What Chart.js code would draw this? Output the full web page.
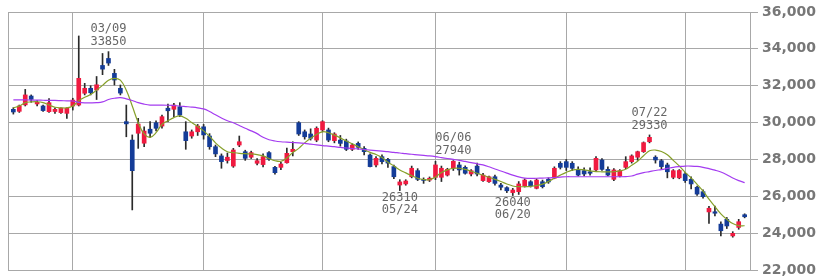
<!DOCTYPE html>
<html>
<head>
<meta charset="utf-8">
<script src="https://cdn.jsdelivr.net/npm/chart.js@4/dist/chart.umd.min.js"></script>
<style>
html,body{margin:0;padding:0;background:#fff;}
#wrap{width:823px;height:280px;}
</style>
</head>
<body>
<div id="wrap"><canvas id="c" width="823" height="280"></canvas></div>
<script>
const dates = [
 "02/14","02/15","02/16","02/17","02/18","02/21","02/22","02/24","02/25","02/28",
 "03/01","03/02","03/03","03/04","03/07","03/08","03/09","03/10","03/11","03/14","03/15","03/16","03/17","03/18","03/22","03/23","03/24","03/25","03/28","03/29","03/30","03/31",
 "04/01","04/04","04/05","04/06","04/07","04/08","04/11","04/12","04/13","04/14","04/15","04/18","04/19","04/20","04/21","04/22","04/25","04/26","04/27","04/28",
 "05/02","05/06","05/09","05/10","05/11","05/12","05/13","05/16","05/17","05/18","05/19","05/20","05/23","05/24","05/25","05/26","05/27","05/30","05/31",
 "06/01","06/02","06/03","06/06","06/07","06/08","06/09","06/10","06/13","06/14","06/15","06/16","06/17","06/20","06/21","06/22","06/23","06/24","06/27","06/28","06/29","06/30",
 "07/01","07/04","07/05","07/06","07/07","07/08","07/11","07/12","07/13","07/14","07/15","07/19","07/20","07/21","07/22","07/25","07/26","07/27","07/28","07/29",
 "08/01","08/02","08/03","08/04","08/05","08/08","08/09","08/10","08/12","08/15","08/16"
];
const opens = [30720,30610,30960,31440,31010,30900,30590,30600,30540,30500,
 30900,30950,31590,31860,31770,33100,33480,32670,31860,30050,29050,29420,28880,29640,29990,29810,30780,30720,30860,29500,29270,29500,
 29770,29270,28690,28190,27940,27640,28780,28420,28120,27790,27720,28370,27570,27570,27820,28420,29990,29500,29380,29050,
 29600,29600,29020,29050,29000,28550,28870,28600,28240,27700,28150,28000,27610,26610,26670,27060,27390,26920,26880,
 27030,27030,27150,27520,27700,27570,27210,27640,26850,26790,27060,26610,26470,26200,26250,26560,26790,26430,26790,26920,26980,27790,
 27880,27790,27460,27390,27330,27430,27970,27460,26920,27100,27570,27880,28120,28420,28960,28120,27930,27700,27030,27000,
 27210,26920,26490,26250,25150,25160,24490,24750,23850,24310,25000];
const highs = [30810,30950,31800,31500,31200,30950,31300,30800,30800,30800,
 31320,34700,32130,32000,32500,33750,33850,32890,32040,30950,29330,30230,29770,30050,30100,30400,31000,31050,31080,30050,29600,29900,
 29900,29400,28780,28300,28350,28600,29270,28500,28450,28050,28300,28420,27620,27850,28620,28960,30050,29600,29660,29770,
 30100,29700,29450,29300,29100,28850,28950,28700,28300,28150,28250,28060,27700,26900,26900,27640,27500,27000,27050,
 27900,27640,27520,27940,27850,27650,27450,27800,27250,27100,27150,26700,26520,26430,26800,26950,26850,26950,26880,27000,27600,27880,
 28000,27880,27600,27550,27550,28150,28050,27600,27500,27450,28150,28250,28450,28950,29330,28200,28000,27800,27450,27450,
 27300,27050,26550,26350,25450,25470,24620,24850,24080,24750,25050];
const lows = [30460,30550,30900,31100,30900,30600,30550,30500,30500,30230,
 30680,30900,31500,31500,31250,32600,33100,32040,31500,29230,25260,28600,28690,29200,29550,29700,30050,30320,30320,28550,29150,29300,
 29100,28550,28150,27520,27800,27570,28690,27950,28050,27700,27600,27950,27200,27450,27800,28190,29300,29100,29050,28960,
 29500,28960,28900,28720,28480,28480,28550,28250,27600,27600,27750,27570,26960,26310,26600,27000,26850,26700,26800,
 26900,26800,27100,27400,27150,27200,27100,27100,26800,26750,26600,26350,26200,26040,26100,26500,26500,26400,26450,26700,26950,27480,
 27400,27400,27100,27100,27150,27350,27400,27100,26850,27050,27500,27800,27950,28380,28900,27800,27500,27000,26950,26950,
 26750,26400,26050,25900,24530,24930,23850,24250,23780,24210,24830];
const closes = [30575,30900,31500,31260,31100,30650,31080,30720,30780,30780,
 31220,32400,31860,31620,32050,32900,33230,32310,31600,29930,27390,29920,29540,29420,29690,30320,30640,30950,30410,29020,29500,29810,
 29330,28690,28300,27880,28120,28510,28960,28060,28370,27930,28150,28010,27280,27750,28330,28550,29380,29230,29150,29690,
 30050,29050,29380,28870,28550,28780,28660,28420,27610,28060,27880,27800,27060,26780,26830,27520,26920,26860,26980,
 27700,27520,27460,27900,27430,27250,27390,27210,27150,27060,26700,26490,26300,26340,26670,26880,26560,26880,26520,26780,27520,27570,
 27570,27520,27150,27210,27250,28060,27460,27150,27430,27390,27880,28190,28420,28910,29200,27970,27610,27330,27390,27400,
 26850,26670,26120,25980,25350,25080,24130,24390,23990,24620,24890];
const maShort = [30800,30900,31080,31120,31130,31080,30950,30830,30800,30800,
 30900,31180,31370,31520,31760,32020,32300,32400,32300,31750,30900,30000,29380,29200,29450,29900,30100,30270,30360,30230,30000,29780,
 29550,29250,28900,28620,28420,28370,28330,28310,28300,28260,28190,28050,27930,27900,28080,28380,28600,28900,29150,29350,
 29500,29450,29320,29170,29000,28850,28690,28530,28380,28270,28100,27850,27650,27430,27270,27120,26980,26910,26900,
 27050,27290,27430,27520,27520,27460,27360,27250,27140,27030,26920,26800,26670,26560,26520,26520,26540,26580,26660,26800,26980,27150,
 27300,27420,27460,27430,27380,27340,27330,27330,27330,27380,27470,27680,27900,28200,28470,28510,28430,28250,27950,27650,
 27300,27000,26650,26280,25850,25440,25050,24750,24520,24410,24400];
const maLong = [31230,31230,31230,31220,31220,31210,31200,31200,31190,31180,
 31170,31100,31070,31070,31080,31120,31250,31320,31350,31290,31200,31080,31000,30950,30950,30950,30940,30920,30900,30870,30840,30800,
 30740,30600,30420,30250,30100,29990,29840,29690,29550,29400,29200,29070,29000,28960,28940,28920,28900,28870,28830,28790,
 28750,28720,28690,28650,28620,28590,28570,28540,28510,28480,28450,28420,28380,28350,28310,28280,28250,28220,28190,
 28150,28100,28050,28000,27950,27890,27830,27760,27700,27600,27480,27370,27260,27150,27050,26990,26970,26980,26990,27000,27020,27040,
 27060,27060,27060,27060,27060,27060,27060,27060,27060,27060,27070,27100,27200,27280,27340,27400,27450,27510,27570,27610,
 27640,27640,27620,27570,27500,27420,27320,27170,26990,26850,26740];
const yTicks = [22000,24000,26000,28000,30000,32000,34000,36000];
const marks = [
 {date:"03/09", kind:"high"},
 {date:"05/24", kind:"low"},
 {date:"06/06", kind:"high"},
 {date:"06/20", kind:"low"},
 {date:"07/22", kind:"high"}
];

const RED = "#f01a40", BLUE = "#143c98", WICK = "#2a2a2a", GRID = "#a8a8a8";
const idx = dates.map((d, i) => i);
const up = i => closes[i] >= opens[i];
const monthStarts = idx.filter(i => i === 0 ? false : dates[i].slice(0,2) !== dates[i-1].slice(0,2));
const xMin = -0.9, xMax = dates.length - 0.1;

const markPlugin = {
  id: "marks",
  afterDatasetsDraw(chart) {
    const c = chart.ctx, xs = chart.scales.x, ys = chart.scales.y;
    c.save();
    c.font = '12px "DejaVu Sans Mono"';
    c.fillStyle = "#666";
    c.textAlign = "center";
    c.textBaseline = "middle";
    marks.forEach(m => {
      const i = dates.indexOf(m.date);
      const x = xs.getPixelForValue(i);
      if (m.kind === "high") {
        const y = ys.getPixelForValue(highs[i]);
        c.fillText(m.date, x, y - 22.5);
        c.fillText(String(highs[i]), x, y - 9.5);
      } else {
        const y = ys.getPixelForValue(lows[i]);
        c.fillText(String(lows[i]), x, y + 7);
        c.fillText(m.date, x, y + 19.5);
      }
    });
    c.restore();
  }
};

new Chart(document.getElementById("c"), {
  type: "bar",
  data: {
    datasets: [
      {type:"line", data: idx.map(i => ({x:i, y:maLong[i]})), borderColor:"#a43cf0", borderWidth:1.2, pointRadius:0, tension:0.4, order:0},
      {type:"line", data: idx.map(i => ({x:i, y:maShort[i]})), borderColor:"#86a02a", borderWidth:1.2, pointRadius:0, tension:0.4, order:0},
      {data: idx.map(i => ({x:i, y:[Math.min(opens[i],closes[i]), Math.max(opens[i],closes[i])]})),
       backgroundColor: idx.map(i => up(i) ? RED : BLUE), barThickness:4, minBarLength:1, grouped:false, order:1},
      {data: idx.map(i => ({x:i, y:[lows[i], highs[i]]})),
       backgroundColor: WICK, barThickness:1, grouped:false, order:2}
    ]
  },
  options: {
    responsive:false,
    animation:false,
    layout:{padding:{left:8, top:12, bottom:10, right:0}},
    plugins:{legend:{display:false}, tooltip:{enabled:false}},
    scales:{
      x:{type:"linear", min:xMin, max:xMax, offset:false,
         ticks:{display:false, autoSkip:false, padding:0},
         grid:{color:GRID, drawTicks:false, lineWidth:1, offset:false},
         border:{display:true, color:GRID},
         afterBuildTicks(s){ s.ticks = [xMin, ...monthStarts, xMax].map(v => ({value:v})); },
         afterFit(s){ s.height = 0; }},
      y:{position:"right", min:22000, max:36000,
         ticks:{color:"#777", font:{family:"DejaVu Sans", size:14, weight:"bold"}, padding:4},
         grid:{color:GRID, tickLength:8, lineWidth:1},
         border:{display:true, color:GRID},
         afterBuildTicks(s){ s.ticks = yTicks.map(v => ({value:v})); },
         afterFit(s){ s.width = 73; s.paddingTop = 0; s.paddingBottom = 0; }}
    }
  },
  plugins:[markPlugin]
});
</script>
</body>
</html>
